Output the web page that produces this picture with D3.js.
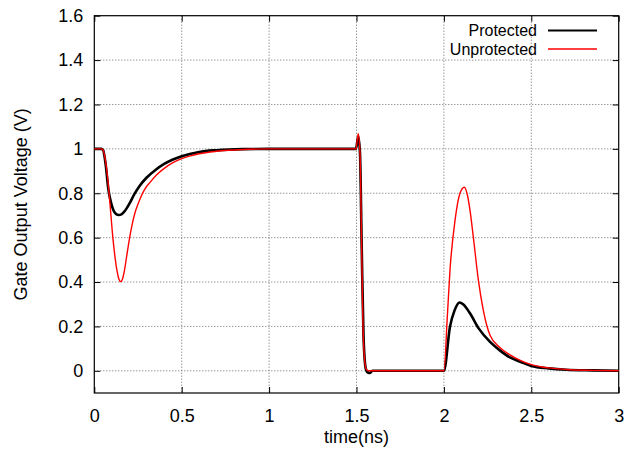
<!DOCTYPE html>
<html>
<head>
<meta charset="utf-8">
<script src="https://cdn.jsdelivr.net/npm/d3@7"></script>
<style>
  body { margin: 0; background: #fff; }
  svg { display: block; font-family: "Liberation Sans", Arial, sans-serif; }
</style>
</head>
<body>
<svg id="chart" width="625" height="449"></svg>
<script>
// tick values
const xTicks = [0, 0.5, 1, 1.5, 2, 2.5, 3];
const yTicks = [0, 0.2, 0.4, 0.6, 0.8, 1, 1.2, 1.4, 1.6];

// Protected (black) - time in ns, voltage in V
const protTime = [0, 0.04, 0.05, 0.065, 0.08, 0.095, 0.11, 0.125, 0.14, 0.155, 0.17, 0.185, 0.20, 0.23, 0.26, 0.30, 0.35, 0.40, 0.45, 0.50, 0.60, 0.70, 0.85, 1.0,
  1.497, 1.51, 1.52, 1.53, 1.54, 1.553, 1.565, 1.578, 1.59,
  2.0, 2.035, 2.06, 2.09, 2.11, 2.15, 2.20, 2.264, 2.32, 2.378, 2.44, 2.5, 2.6, 2.7, 2.85, 3.0];
const protVolt = [1.0, 1.0, 0.995, 0.93, 0.82, 0.76, 0.722, 0.706, 0.702, 0.705, 0.716, 0.732, 0.752, 0.797, 0.834, 0.871, 0.905, 0.932, 0.952, 0.967, 0.986, 0.994, 0.999, 1.0,
  1.0, 1.055, 0.98, 0.55, 0.16, 0.01, -0.008, -0.01, 0.0,
  0.0, 0.2, 0.27, 0.308, 0.30, 0.258, 0.19, 0.13, 0.092, 0.06, 0.04, 0.022, 0.011, 0.005, 0.002, 0.0];

// Unprotected (red)
const unprotTime = [0, 0.04, 0.05, 0.067, 0.08, 0.09, 0.105, 0.118, 0.13, 0.14, 0.151, 0.162, 0.172, 0.185, 0.20, 0.214, 0.232, 0.252, 0.27, 0.29, 0.32, 0.357, 0.40, 0.45, 0.50, 0.60, 0.70, 0.85, 1.0,
  1.497, 1.51, 1.52, 1.53, 1.539, 1.554, 1.565,
  2.0, 2.02, 2.035, 2.064, 2.092, 2.117, 2.135, 2.149, 2.168, 2.197, 2.225, 2.264, 2.32, 2.378, 2.44, 2.5, 2.6, 2.7, 2.85, 3.0];
const unprotVolt = [1.0, 1.0, 0.995, 0.93, 0.84, 0.75, 0.61, 0.515, 0.45, 0.415, 0.402, 0.415, 0.45, 0.515, 0.59, 0.65, 0.71, 0.755, 0.79, 0.82, 0.85, 0.883, 0.912, 0.938, 0.956, 0.978, 0.989, 0.997, 1.0,
  1.0, 1.068, 0.98, 0.53, 0.155, 0.01, 0.0,
  0.0, 0.25, 0.455, 0.68, 0.80, 0.827, 0.79, 0.725, 0.605, 0.41, 0.275, 0.16, 0.105, 0.072, 0.046, 0.028, 0.013, 0.006, 0.002, 0.0];

const seriesNames = ["Protected", "Unprotected"];
const seriesColors = ["#000000", "#ff0000"];
const seriesWidths = [2.6, 1.4];

const plot = { left: 94.3, right: 618.7, top: 15.7, bottom: 393 };
const fontSize = 18;

const svg = d3.select("#chart");

const x = d3.scaleLinear().domain([0, 3]).range([plot.left, plot.right]);
const y = d3.scaleLinear().domain([-0.1, 1.6]).range([plot.bottom, plot.top]);

// grid
const grid = svg.append("g").attr("class", "grid")
    .attr("stroke", "#6a6a6a")
    .attr("stroke-width", 1)
    .attr("stroke-dasharray", "1,2");

grid.selectAll(".gx")
    .data(xTicks.filter(d => d > 0 && d < 3))
    .enter().append("line")
    .attr("x1", d => x(d)).attr("x2", d => x(d))
    .attr("y1", plot.top).attr("y2", plot.bottom);

grid.selectAll(".gy")
    .data(yTicks.filter(d => d < 1.6))
    .enter().append("line")
    .attr("x1", plot.left).attr("x2", plot.right)
    .attr("y1", d => y(d)).attr("y2", d => y(d));

// axes with inward ticks on all sides
const tickLen = 6;
svg.append("g")
    .attr("transform", `translate(0,${plot.bottom})`)
    .call(d3.axisBottom(x).tickValues(xTicks).tickSize(-tickLen).tickPadding(16).tickFormat(d3.format("")))
    .call(g => g.select(".domain").remove());
svg.append("g")
    .attr("transform", `translate(0,${plot.top})`)
    .call(d3.axisTop(x).tickValues(xTicks).tickSize(-tickLen).tickFormat(""))
    .call(g => g.select(".domain").remove());
svg.append("g")
    .attr("transform", `translate(${plot.left},0)`)
    .call(d3.axisLeft(y).tickValues(yTicks).tickSize(-tickLen).tickPadding(11).tickFormat(d3.format("")))
    .call(g => g.select(".domain").remove());
svg.append("g")
    .attr("transform", `translate(${plot.right},0)`)
    .call(d3.axisRight(y).tickValues(yTicks).tickSize(-tickLen).tickFormat(""))
    .call(g => g.select(".domain").remove());

svg.selectAll(".tick text")
    .attr("font-size", fontSize)
    .attr("font-family", "Liberation Sans, Arial, sans-serif")
    .attr("fill", "#000");
svg.selectAll(".tick line").attr("stroke", "#000");

// frame
svg.append("rect")
    .attr("x", plot.left).attr("y", plot.top)
    .attr("width", plot.right - plot.left)
    .attr("height", plot.bottom - plot.top)
    .attr("fill", "none")
    .attr("stroke", "#000")
    .attr("stroke-width", 1.2);

// curves
const line = d3.line()
    .x(d => x(d[0]))
    .y(d => y(d[1]))
    .curve(d3.curveMonotoneX);

const seriesData = [
  d3.zip(protTime, protVolt),
  d3.zip(unprotTime, unprotVolt)
];

svg.append("g").selectAll("path")
    .data(seriesData)
    .enter().append("path")
    .attr("d", line)
    .attr("fill", "none")
    .attr("stroke", (d, i) => seriesColors[i])
    .attr("stroke-width", (d, i) => seriesWidths[i])
    .attr("stroke-linejoin", "round");

// legend
const legend = svg.append("g").attr("class", "legend");
seriesNames.forEach((name, i) => {
  const by = 36 + i * 18.5;
  legend.append("text")
      .attr("x", 537).attr("y", by)
      .attr("text-anchor", "end")
      .attr("font-size", 16)
      .text(name);
  legend.append("line")
      .attr("x1", 548).attr("x2", 597)
      .attr("y1", by - 5.5).attr("y2", by - 5.5)
      .attr("stroke", seriesColors[i])
      .attr("stroke-width", i === 0 ? 2 : 1.4);
});

// axis labels
svg.append("text")
    .attr("x", (plot.left + plot.right) / 2)
    .attr("y", 443)
    .attr("text-anchor", "middle")
    .attr("font-size", fontSize)
    .text("time(ns)");

svg.append("text")
    .attr("transform", `translate(27,${(plot.top + plot.bottom) / 2}) rotate(-90)`)
    .attr("text-anchor", "middle")
    .attr("font-size", fontSize)
    .text("Gate Output Voltage (V)");
</script>
</body>
</html>
